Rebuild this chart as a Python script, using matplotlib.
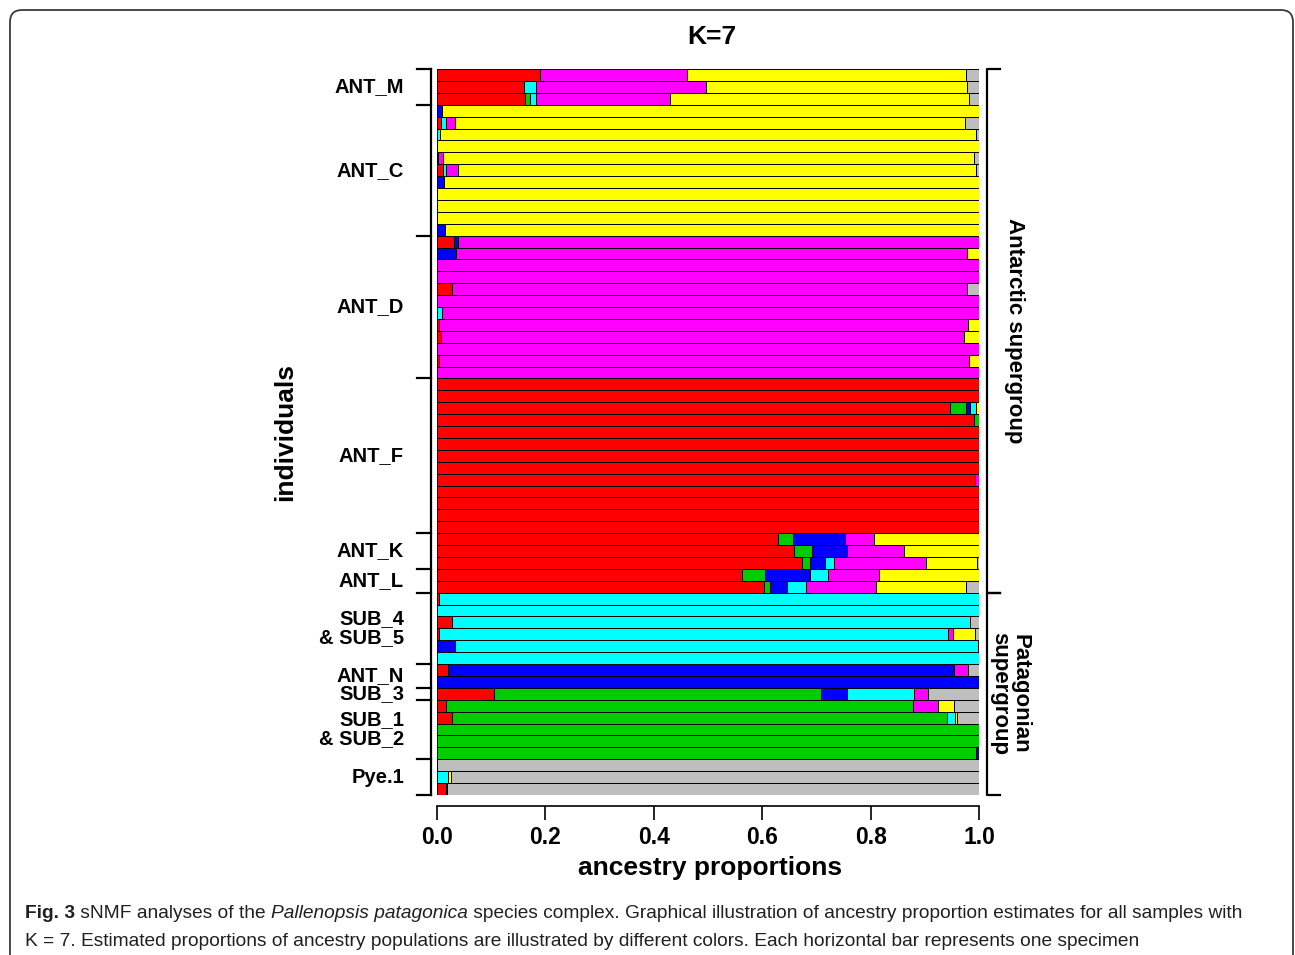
import matplotlib
matplotlib.use('Agg')
import matplotlib.pyplot as plt
from matplotlib import font_manager
from matplotlib.transforms import blended_transform_factory, IdentityTransform
from matplotlib.patches import FancyBboxPatch

# ancestry proportions per individual, columns follow the cluster colours below
# (red, green, blue, cyan, magenta, yellow, gray)
ant_m = [
    [0.190, 0, 0, 0, 0.271, 0.515, 0.024],
    [0.160, 0, 0, 0.023, 0.313, 0.482, 0.022],
    [0.163, 0.008, 0, 0.011, 0.248, 0.552, 0.018],
]
ant_c = [
    [0, 0, 0.009, 0, 0, 0.991, 0],
    [0.007, 0, 0, 0.010, 0.017, 0.940, 0.026],
    [0, 0, 0, 0.006, 0, 0.988, 0.006],
    [0, 0, 0, 0, 0, 1.0, 0],
    [0.002, 0, 0, 0, 0.009, 0.979, 0.010],
    [0.011, 0, 0, 0.006, 0.022, 0.955, 0.006],
    [0, 0, 0.012, 0, 0, 0.988, 0],
    [0, 0, 0, 0, 0, 1.0, 0],
    [0, 0, 0, 0, 0, 1.0, 0],
    [0, 0, 0, 0, 0, 1.0, 0],
    [0, 0, 0.015, 0, 0, 0.985, 0],
]
ant_d = [
    [0.031, 0, 0.007, 0, 0.962, 0, 0],
    [0, 0, 0.035, 0, 0.943, 0.022, 0],
    [0, 0, 0, 0, 1.0, 0, 0],
    [0, 0, 0, 0, 1.0, 0, 0],
    [0.028, 0, 0, 0, 0.950, 0, 0.022],
    [0, 0, 0, 0, 1.0, 0, 0],
    [0, 0, 0, 0.009, 0.991, 0, 0],
    [0.003, 0, 0, 0, 0.977, 0.020, 0],
    [0.007, 0, 0, 0, 0.965, 0.028, 0],
    [0, 0, 0, 0, 1.0, 0, 0],
    [0.003, 0, 0, 0, 0.979, 0.018, 0],
    [0, 0, 0, 0, 1.0, 0, 0],
]
ant_f = [
    [1.0, 0, 0, 0, 0, 0, 0],
    [1.0, 0, 0, 0, 0, 0, 0],
    [0.946, 0.030, 0.007, 0.012, 0, 0.005, 0],
    [0.990, 0.010, 0, 0, 0, 0, 0],
    [1.0, 0, 0, 0, 0, 0, 0],
    [1.0, 0, 0, 0, 0, 0, 0],
    [1.0, 0, 0, 0, 0, 0, 0],
    [1.0, 0, 0, 0, 0, 0, 0],
    [0.993, 0, 0, 0, 0.007, 0, 0],
    [1.0, 0, 0, 0, 0, 0, 0],
    [1.0, 0, 0, 0, 0, 0, 0],
    [1.0, 0, 0, 0, 0, 0, 0],
    [1.0, 0, 0, 0, 0, 0, 0],
]
ant_k = [
    [0.629, 0.027, 0.096, 0, 0.054, 0.194, 0],
    [0.659, 0.033, 0.064, 0, 0.106, 0.138, 0],
    [0.673, 0.015, 0.028, 0.016, 0.170, 0.094, 0.004],
]
ant_l = [
    [0.562, 0.043, 0.083, 0.034, 0.093, 0.185, 0],
    [0.603, 0.012, 0.031, 0.034, 0.130, 0.166, 0.024],
]
sub_4_5 = [
    [0.004, 0, 0, 0.996, 0, 0, 0],
    [0, 0, 0, 1.0, 0, 0, 0],
    [0.027, 0, 0, 0.956, 0, 0, 0.017],
    [0.004, 0, 0, 0.938, 0.010, 0.041, 0.007],
    [0, 0, 0.034, 0.964, 0, 0, 0.002],
    [0, 0, 0, 1.0, 0, 0, 0],
]
ant_n = [
    [0.021, 0, 0.932, 0, 0.026, 0, 0.021],
    [0, 0, 1.0, 0, 0, 0, 0],
]
sub_3 = [
    [0.106, 0.602, 0.049, 0.123, 0.026, 0, 0.094],
]
sub_1_2 = [
    [0.016, 0.862, 0, 0, 0.046, 0.030, 0.046],
    [0.027, 0.914, 0, 0.014, 0, 0.005, 0.040],
    [0, 1.0, 0, 0, 0, 0, 0],
    [0, 1.0, 0, 0, 0, 0, 0],
    [0, 0.995, 0.005, 0, 0, 0, 0],
]
pye_1 = [
    [0, 0, 0, 0, 0, 0, 1.0],
    [0, 0, 0, 0.020, 0, 0.005, 0.975],
    [0.016, 0, 0, 0, 0, 0.003, 0.981],
]

group_labels = ['ANT_M', 'ANT_C', 'ANT_D', 'ANT_F', 'ANT_K', 'ANT_L',
                'SUB_4\n& SUB_5', 'ANT_N', 'SUB_3', 'SUB_1\n& SUB_2', 'Pye.1']
group_rows = [ant_m, ant_c, ant_d, ant_f, ant_k, ant_l,
              sub_4_5, ant_n, sub_3, sub_1_2, pye_1]
supergroups = ['Antarctic supergroup', 'Patagonian\nsupergroup']
supergroup_sizes = [6, 5]   # number of groups in each supergroup
colors = ['#FF0000', '#00CD00', '#0000FF', '#00FFFF', '#FF00FF', '#FFFF00', '#BEBEBE']

W, H = 1295, 955
fig = plt.figure(figsize=(W / 100, H / 100), dpi=100)
ax = fig.add_axes([437 / W, 1 - 795 / H, 542 / W, 726 / H])

rows = [r for g in group_rows for r in g]
n = len(rows)

# stacked horizontal bars, one per individual
left = [0.0] * n
for k, col in enumerate(colors):
    idx = [i for i in range(n) if rows[i][k] > 0]
    ax.barh(idx, [rows[i][k] for i in idx], left=[left[i] for i in idx],
            height=1.0, color=col, edgecolor='black', linewidth=0.7)
    for i in range(n):
        left[i] += rows[i][k]

ax.set_xlim(0, 1)
ax.set_ylim(n - 0.5, -0.5)
for s in ['left', 'right', 'top']:
    ax.spines[s].set_visible(False)
ax.spines['bottom'].set_position(('outward', 8))
ax.spines['bottom'].set_bounds(0, 1)
ax.spines['bottom'].set_linewidth(1.2)
ax.set_yticks([])
ax.set_xticks([0, 0.2, 0.4, 0.6, 0.8, 1.0])
ax.set_xticklabels(['0.0', '0.2', '0.4', '0.6', '0.8', '1.0'],
                   fontsize=16.5, fontweight='bold', family='Liberation Sans')
ax.tick_params(axis='x', length=10, width=1.2, pad=4)

# group brackets on the left
tr = blended_transform_factory(ax.transAxes, ax.transData)
bounds = [-0.5]
for g in group_rows:
    bounds.append(bounds[-1] + len(g))
ax.plot([-0.011, -0.011], [bounds[0], bounds[-1]], color='black', lw=1.6,
        transform=tr, clip_on=False)
for b in bounds:
    ax.plot([-0.036, -0.011], [b, b], color='black', lw=1.6, transform=tr, clip_on=False)
for lab, b0, b1 in zip(group_labels, bounds[:-1], bounds[1:]):
    ax.text(-0.061, (b0 + b1) / 2, lab, transform=tr, ha='right', va='center',
            multialignment='right', fontsize=14.5, fontweight='bold',
            family='Liberation Sans', linespacing=1.0)

# supergroup brackets on the right
gi = 0
for name, sz, tx in zip(supergroups, supergroup_sizes, [1.066, 1.057]):
    y0, y1 = bounds[gi], bounds[gi + sz]
    gi += sz
    ax.plot([1.039, 1.0148, 1.0148, 1.039], [y0, y0, y1, y1], color='black', lw=1.6,
            transform=tr, clip_on=False)
    ax.text(tx, (y0 + y1) / 2, name, transform=tr, ha='center', va='center',
            rotation=-90, fontsize=16, fontweight='bold', family='Liberation Sans',
            linespacing=0.95)

fig.text(712 / W, 1 - 37 / H, 'K=7', ha='center', va='center', fontsize=19,
         fontweight='bold', family='Liberation Sans')
fig.text(710 / W, 1 - 868 / H, 'ancestry proportions', ha='center', va='center',
         fontsize=19, fontweight='bold', family='Liberation Sans')
fig.text(285 / W, 1 - 432 / H, 'individuals', ha='center', va='center', rotation=90,
         fontsize=19, fontweight='bold', family='Liberation Sans')

# rounded frame around the figure panel
frame = FancyBboxPatch((10, -40), 1283, H - 10 + 40, boxstyle='round,pad=0,rounding_size=12',
                       transform=IdentityTransform(), fill=False, edgecolor='#3a3a3a', lw=1.3)
fig.add_artist(frame)

# caption
names = {f.name for f in font_manager.fontManager.ttflist}
cap_font = 'Liberation Sans Narrow' if 'Liberation Sans Narrow' in names else 'Liberation Sans'
renderer = fig.canvas.get_renderer()

line1 = [('Fig. 3', 'bold', 'normal'), (' sNMF analyses of the ', 'normal', 'normal'),
         ('Pallenopsis patagonica', 'normal', 'italic'),
         (' species complex. Graphical illustration of ancestry proportion estimates for all samples with',
          'normal', 'normal')]
line2 = [('K = 7. Estimated proportions of ancestry populations are illustrated by different colors. '
          'Each horizontal bar represents one specimen', 'normal', 'normal')]


def piece_width(s, weight, style, size):
    t = fig.text(0, 0, '|' + s + '|', fontsize=size, fontweight=weight, fontstyle=style,
                 family=cap_font)
    t2 = fig.text(0, 0, '||', fontsize=size, fontweight=weight, fontstyle=style,
                  family=cap_font)
    w = t.get_window_extent(renderer).width - t2.get_window_extent(renderer).width
    t.remove()
    t2.remove()
    return w


base = 10.0
w1 = sum(piece_width(s, wt, st, base) for s, wt, st in line1)
cap_size = base * 1223 / w1


def draw_line(pieces, x0, y):
    x = x0
    for s, wt, st in pieces:
        fig.text(x / W, 1 - y / H, s, fontsize=cap_size, fontweight=wt, fontstyle=st,
                 family=cap_font, color='#231f20', va='baseline')
        x += piece_width(s, wt, st, cap_size)


draw_line(line1, 25, 918)
draw_line(line2, 25, 946)

fig.savefig('out.png', dpi=100)
